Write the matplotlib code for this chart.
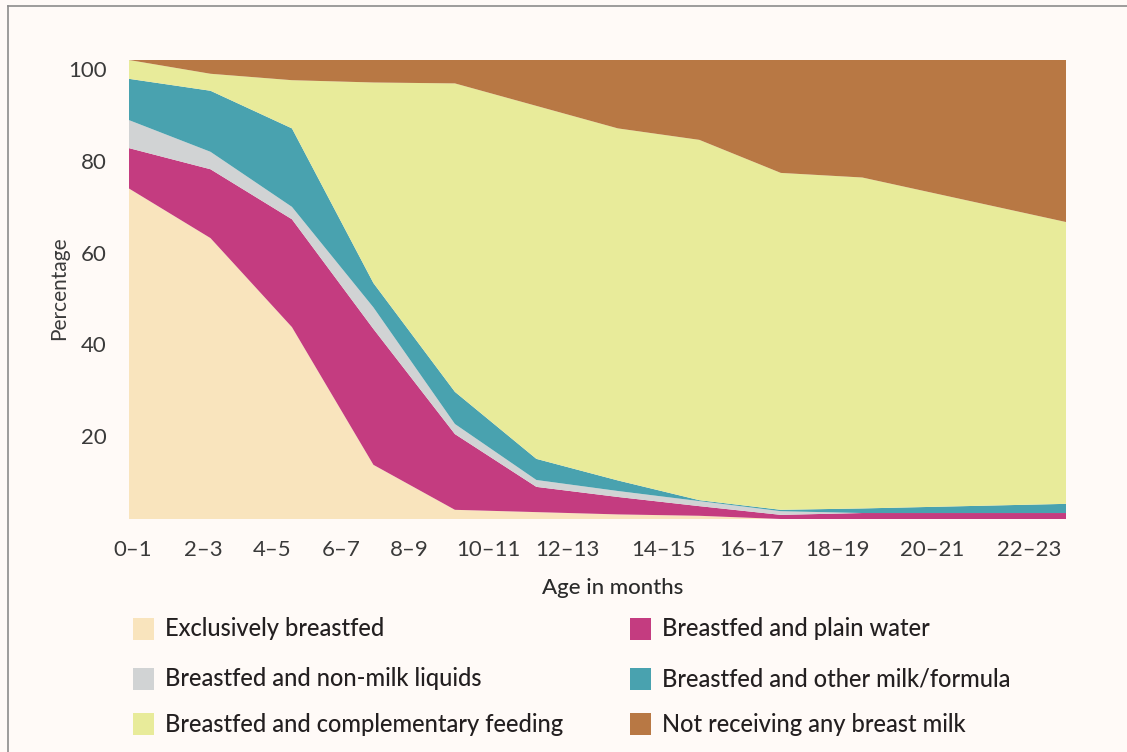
import numpy as np
import matplotlib
matplotlib.use("Agg")
import matplotlib.pyplot as plt
import matplotlib.transforms as mtransforms
from matplotlib.patches import Rectangle
from matplotlib.lines import Line2D

# data (percent of children, by age in months)
age = [0, 2, 4, 6, 8, 10, 12, 14, 16, 18, 23]
exclusive = [72.0, 61.2, 41.8, 11.8, 2.0, 1.5, 1.0, 0.7, 0.0, 0.0, 0.0]
plain_water = [8.8, 15.0, 23.5, 29.6, 16.5, 5.5, 3.8, 2.1, 0.9, 1.3, 1.3]
non_milk = [6.1, 3.8, 2.7, 4.7, 2.2, 1.5, 1.3, 1.1, 0.8, 0.0, 0.0]
other_milk = [9.0, 13.3, 17.1, 5.3, 7.0, 4.6, 2.3, 0.2, 0.3, 1.0, 2.0]
complementary = [4.1, 3.7, 10.5, 43.7, 67.2, 76.9, 76.7, 78.5, 73.4, 72.1, 61.4]
not_breastfed = [0.0, 3.0, 4.4, 4.9, 5.1, 10.0, 14.9, 17.4, 24.6, 25.6, 35.3]

age_labels = ["0–1", "2–3", "4–5", "6–7", "8–9", "10–11", "12–13",
              "14–15", "16–17", "18–19", "20–21", "22–23"]
y_ticks = [20, 40, 60, 80, 100]

series_names = ["Exclusively breastfed", "Breastfed and plain water",
                "Breastfed and non-milk liquids", "Breastfed and other milk/formula",
                "Breastfed and complementary feeding", "Not receiving any breast milk"]
colors = ["#F9E4BD", "#C43C80", "#D1D3D4", "#49A2AF", "#E8EB9A", "#B87844"]

bg = "#FFFAF7"
plt.rcParams['font.family'] = ['Lato', 'DejaVu Sans']

fig = plt.figure(figsize=(11.27, 7.52), dpi=100, facecolor=bg)
ax = fig.add_axes([129/1127, 1 - 519/752, (1066 - 129)/1127, (519 - 60)/752])
ax.set_facecolor(bg)

ax.stackplot(age, exclusive, plain_water, non_milk, other_milk,
             complementary, not_breastfed, colors=colors, linewidth=0)

ax.set_xlim(0, 23)
ax.set_ylim(0, 100)
for s in ax.spines.values():
    s.set_visible(False)

# tick labels sit where the designer put them
tick_pos = [0.10, 1.82, 3.51, 5.20, 6.87, 8.81, 10.75, 13.11, 15.27, 17.40, 19.71, 22.09]
ax.set_xticks(tick_pos)
ax.set_xticklabels(age_labels)
ax.set_yticks(y_ticks)
ax.set_yticklabels([str(v) for v in y_ticks])
ax.tick_params(length=0, labelsize=16, labelcolor="#3a3a3a")
ax.tick_params(axis='x', pad=15)
ax.tick_params(axis='y', pad=16)
shift = mtransforms.ScaledTranslation(0, -9/100, fig.dpi_scale_trans)
for lab in ax.get_yticklabels():
    lab.set_transform(lab.get_transform() + shift)

fig.text(59/1127, 1 - 288/752, "Percentage", rotation=90, ha="center", va="center",
         fontsize=15, color="#3a3a3a")
fig.text(613/1127, 1 - 588/752, "Age in months", ha="center", va="center",
         fontsize=16, color="#2a2a2a", fontweight='medium')

# legend, two columns
order = [0, 2, 4, 1, 3, 5]
rows_y = [629, 679, 724]
cols_x = [133, 630]
for k, idx in enumerate(order):
    col, row = divmod(k, 3)
    x0 = cols_x[col]
    yc = rows_y[row]
    fig.patches.append(Rectangle((x0/1127, 1 - (yc + 11)/752), 21/1127, 22/752,
                                 transform=fig.transFigure, facecolor=colors[idx],
                                 edgecolor='none'))
    fig.text((x0 + 32)/1127, 1 - yc/752, series_names[idx], ha="left", va="center",
             fontsize=17, color="#231F20", fontweight='medium')

# frame around the card
fig.add_artist(Line2D([8/1127, 1], [1 - 6/752, 1 - 6/752], transform=fig.transFigure,
                      color="#8c8c8c", linewidth=1.2))
fig.add_artist(Line2D([8/1127, 8/1127], [0, 1 - 6/752], transform=fig.transFigure,
                      color="#8c8c8c", linewidth=1.2))

fig.savefig("out.png", dpi=100, facecolor=bg)
